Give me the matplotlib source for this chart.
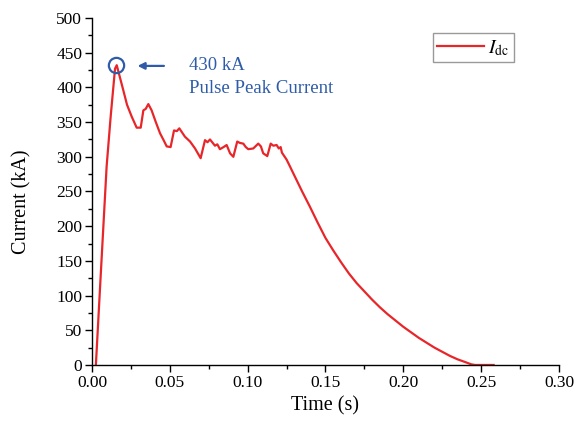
import matplotlib
matplotlib.use("Agg")
import matplotlib.pyplot as plt
from matplotlib.ticker import MultipleLocator

plt.rcParams['font.family'] = ['Liberation Serif', 'DejaVu Serif']
plt.rcParams['mathtext.fontset'] = 'stix'

time_s = [0.0025, 0.0055, 0.0094, 0.012, 0.0148, 0.0159, 0.0201, 0.0225, 0.0255,
          0.0287, 0.0313, 0.033, 0.0345, 0.0362, 0.0383, 0.041, 0.0437, 0.046,
          0.048, 0.0505, 0.0527, 0.0545, 0.0561, 0.0597, 0.063, 0.0662, 0.0698,
          0.0726, 0.0742, 0.0758, 0.079, 0.0805, 0.0822, 0.0845, 0.0865, 0.0887,
          0.0908, 0.0933, 0.095, 0.0972, 0.0988, 0.1004, 0.1036, 0.1068, 0.1085,
          0.11, 0.1126, 0.1148, 0.1165, 0.1186, 0.12, 0.1212, 0.122, 0.125,
          0.1272, 0.13, 0.135, 0.14, 0.145, 0.15, 0.155, 0.16, 0.165, 0.17,
          0.175, 0.18, 0.185, 0.19, 0.195, 0.20, 0.205, 0.21, 0.215, 0.22,
          0.225, 0.23, 0.235, 0.24, 0.2435, 0.246, 0.258]
current_ka = [0, 125, 286, 358, 427, 432, 396, 375, 358,
              342, 342, 367, 369, 376, 367, 350, 334, 324,
              315, 314, 338, 337, 341, 329, 322, 312, 298,
              324, 321, 325, 316, 318, 311, 314, 317, 305,
              300, 322, 320, 319, 314, 311, 312, 319, 315,
              305, 301, 319, 316, 317, 312, 314, 306, 296,
              286, 273, 250, 228, 205, 183, 165, 148, 132, 118,
              106, 94, 83, 73, 64, 55, 47, 39, 32, 25,
              19, 13, 8, 4, 1, 0, 0]

peak_t = 0.0154
peak_i = 432

fig = plt.figure(figsize=(5.76, 4.24), dpi=100)
ax = fig.add_axes([0.1597, 0.1392, 0.8108, 0.8183])

ax.plot(time_s, current_ka, color='#e8262a', lw=1.6, label=r'$I_{\mathrm{dc}}$')

ax.set_xlim(0, 0.30)
ax.set_ylim(0, 500)
ax.xaxis.set_major_locator(MultipleLocator(0.05))
ax.xaxis.set_minor_locator(MultipleLocator(0.025))
ax.yaxis.set_major_locator(MultipleLocator(50))
ax.yaxis.set_minor_locator(MultipleLocator(25))
ax.set_xticklabels([f'{v:.2f}' for v in ax.get_xticks()])
ax.tick_params(which='major', direction='out', length=5, width=1, labelsize=12.5, pad=2)
ax.tick_params(which='minor', direction='out', length=3, width=1)
for s in ['top', 'right']:
    ax.spines[s].set_visible(False)
for s in ['left', 'bottom']:
    ax.spines[s].set_linewidth(1)

ax.set_xlabel('Time (s)', fontsize=14.5, labelpad=4)
ax.set_ylabel('Current (kA)', fontsize=14.5)
ax.yaxis.set_label_coords(-0.13, 0.47)

blue = '#2f5ca8'
ax.plot([peak_t], [peak_i], marker='o', ms=11, mfc='none', mec=blue, mew=1.6)
ax.annotate('', xy=(0.0275, 431), xytext=(0.048, 431),
            arrowprops=dict(arrowstyle='-|>', color=blue, lw=1.6, mutation_scale=10))
ax.text(0.062, 431, '430 kA', color=blue, fontsize=13.5, va='center', ha='left')
ax.text(0.062, 398, 'Pulse Peak Current', color=blue, fontsize=13.5, va='center', ha='left')

leg = ax.legend(loc='upper right', bbox_to_anchor=(0.9036, 0.9568), borderaxespad=0,
                fancybox=False, edgecolor='#808080', fontsize=14, handlelength=2.4,
                borderpad=0.25, handletextpad=0.2)
leg.get_frame().set_linewidth(1)

fig.savefig('out.png', dpi=100)
